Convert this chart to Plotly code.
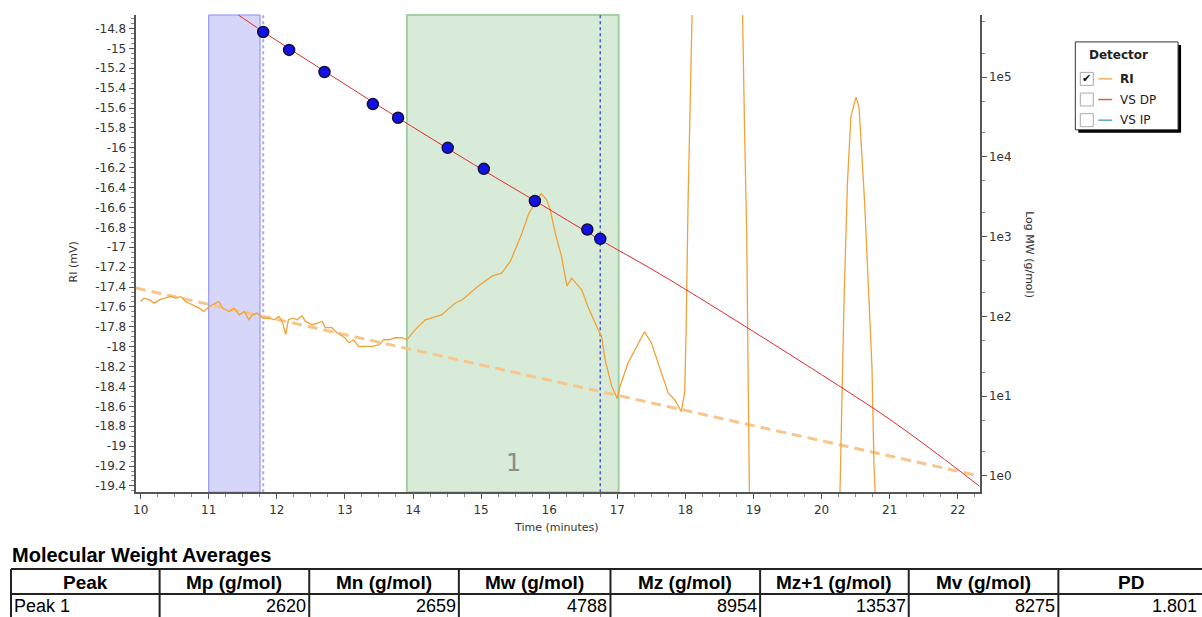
import plotly.graph_objects as go

W, H = 1202, 617

# ---------------- data ----------------
ri_time = [10.00, 10.05, 10.13, 10.20, 10.27, 10.37, 10.44, 10.52, 10.59, 10.66, 10.76, 10.86, 10.93,
           11.01, 11.10, 11.15, 11.20, 11.30, 11.37, 11.45, 11.52, 11.59, 11.64, 11.71, 11.79, 11.89,
           11.96, 12.03, 12.08, 12.13, 12.17, 12.23, 12.30, 12.37, 12.42, 12.52, 12.67, 12.71, 12.81,
           12.86, 12.93, 13.00, 13.06, 13.13, 13.20, 13.30, 13.40, 13.50, 13.57, 13.64, 13.74, 13.84,
           13.91, 14.03, 14.18, 14.42, 14.62, 14.72, 14.96, 15.16, 15.30, 15.43, 15.50, 15.60, 15.70,
           15.79, 15.88, 15.96, 16.01, 16.09, 16.18, 16.26, 16.33, 16.48, 16.57, 16.72, 16.77, 16.82,
           16.92, 17.00, 17.04, 17.16, 17.31, 17.40, 17.50, 17.60, 17.75, 17.84, 17.94, 17.99, 18.01,
           18.04, 18.08, 18.15, 18.40, 18.65, 18.80, 18.84, 18.87, 18.90, 18.92, 18.94, 19.00, 19.50,
           20.00, 20.20, 20.27, 20.30, 20.33, 20.38, 20.43, 20.505, 20.55, 20.63, 20.70, 20.74, 20.77,
           20.78, 20.85, 21.50, 22.32]
ri_mv = [-17.546, -17.512, -17.529, -17.562, -17.529, -17.512, -17.495, -17.512, -17.495, -17.546,
         -17.579, -17.612, -17.646, -17.596, -17.562, -17.546, -17.612, -17.646, -17.612, -17.679,
         -17.646, -17.729, -17.679, -17.662, -17.712, -17.712, -17.729, -17.696, -17.746, -17.879,
         -17.729, -17.712, -17.729, -17.689, -17.746, -17.779, -17.746, -17.808, -17.808, -17.846,
         -17.879, -17.910, -17.960, -17.930, -17.997, -17.997, -17.997, -17.981, -17.930, -17.930,
         -17.910, -17.910, -17.930, -17.83, -17.73, -17.68, -17.56, -17.53, -17.39, -17.29, -17.26,
         -17.14, -17.03, -16.86, -16.66, -16.56, -16.46, -16.52, -16.61, -16.86, -17.09, -17.39,
         -17.31, -17.43, -17.60, -17.83, -17.90, -18.13, -18.40, -18.52, -18.40, -18.16, -17.96,
         -17.85, -17.96, -18.16, -18.47, -18.53, -18.65, -18.46, -17.86, -16.52, -14.68, -13.0,
         -11.5, -12.5, -14.0, -14.66, -15.85, -16.85, -18.20, -19.47, -20.5, -21.5, -21.0, -20.0,
         -19.47, -18.53, -17.53, -16.35, -15.69, -15.49, -15.59, -16.52, -17.53, -18.20, -19.20,
         -19.47, -20.5, -21.5, -21.5]

baseline_time = [9.93, 22.32]
baseline_mv = [-17.41, -19.30]

cal_time = [11.40, 11.80, 12.70, 13.78, 14.51, 15.04, 15.79, 16.75, 17.50, 18.00, 19.00, 20.00,
            21.00, 21.90, 22.32]
cal_mw = [631000, 371500, 118900, 30900, 12740, 6760, 2818, 912, 394, 219, 64.6, 18.6, 5.13, 1.40,
          0.741]

std_time = [11.80, 12.18, 12.70, 13.41, 13.78, 14.51, 15.04, 15.79, 16.56, 16.75]
std_mw = [369000, 220000, 116000, 46000, 31000, 13000, 7100, 2800, 1230, 940]

x_ticks = list(range(10, 23))
y_ticks = [-14.8, -15, -15.2, -15.4, -15.6, -15.8, -16, -16.2, -16.4, -16.6, -16.8, -17, -17.2,
           -17.4, -17.6, -17.8, -18, -18.2, -18.4, -18.6, -18.8, -19, -19.2, -19.4]
y_tick_text = ["-14.8", "-15", "-15.2", "-15.4", "-15.6", "-15.8", "-16", "-16.2", "-16.4", "-16.6",
               "-16.8", "-17", "-17.2", "-17.4", "-17.6", "-17.8", "-18", "-18.2", "-18.4", "-18.6",
               "-18.8", "-19", "-19.2", "-19.4"]
mw_ticks = [1, 10, 100, 1000, 10000, 100000]
mw_tick_text = ["1e0", "1e1", "1e2", "1e3", "1e4", "1e5"]

slice_band = [11.0, 11.754]
peak_band = [13.91, 17.02]
slice_lines = [11.80, 16.75]
peak_label = "1"
peak_label_pos = [15.48, -19.17]

legend_title = "Detector"
legend_names = ["RI", "VS DP", "VS IP"]
legend_colors = ["#F4B060", "#E0603C", "#5AA8C8"]
legend_checked = [True, False, False]

table_title = "Molecular Weight Averages"
table_headers = ["Peak", "Mp (g/mol)", "Mn (g/mol)", "Mw (g/mol)", "Mz (g/mol)", "Mz+1 (g/mol)",
                 "Mv (g/mol)", "PD"]
table_row = ["Peak 1", "2620", "2659", "4788", "8954", "13537", "8275", "1.801"]
col_edges = [8, 157, 307, 457, 609, 759, 908, 1058, 1206]


# ---------------- helpers (pixel -> paper) ----------------
def px(x):
    return x / W


def py(y):
    return 1 - y / H


def note(x, y, text, size, color="#000", family="DejaVu Sans", xa="center", ya="middle",
         angle=0):
    return dict(x=px(x), y=py(y), xref="paper", yref="paper", text=text, showarrow=False,
                xanchor=xa, yanchor=ya, textangle=angle,
                font=dict(family=family, size=size, color=color))


AX = "#555555"
TICKFONT = dict(family="DejaVu Sans", size=12, color="#333333")

fig = go.Figure()

fig.add_trace(go.Scatter(x=baseline_time, y=baseline_mv, mode="lines",
                         line=dict(color="#F6C68C", width=3, dash="10px,6px"),
                         hoverinfo="skip", showlegend=False))
fig.add_trace(go.Scatter(x=ri_time, y=ri_mv, mode="lines",
                         line=dict(color="#F0A238", width=1.3),
                         name="RI", showlegend=False))
fig.add_trace(go.Scatter(x=cal_time, y=cal_mw, mode="lines", yaxis="y2",
                         line=dict(color="#E62828", width=1, shape="spline"),
                         showlegend=False))
fig.add_trace(go.Scatter(x=std_time, y=std_mw, mode="markers", yaxis="y2",
                         marker=dict(size=11, color="#1212E6",
                                     line=dict(color="#10103A", width=1.5)),
                         showlegend=False))

shapes = []
# bands
shapes.append(dict(type="rect", xref="x", yref="y domain", x0=slice_band[0], x1=slice_band[1],
                   y0=0, y1=1, fillcolor="#D6D6FA", line=dict(color="#8A8AEE", width=1),
                   layer="below"))
shapes.append(dict(type="rect", xref="x", yref="y domain", x0=peak_band[0], x1=peak_band[1],
                   y0=0, y1=1, fillcolor="#D8EBD8", line=dict(color="#A4CFA4", width=2),
                   layer="below"))
shapes.append(dict(type="line", xref="x", yref="y domain", x0=slice_lines[0], x1=slice_lines[0],
                   y0=0, y1=1, line=dict(color="#A8A8F0", width=2, dash="dot"), layer="below"))
shapes.append(dict(type="line", xref="x", yref="y domain", x0=slice_lines[1], x1=slice_lines[1],
                   y0=0, y1=1, line=dict(color="#4A5AD6", width=1.5, dash="dot"), layer="below"))

annotations = []
annotations.append(dict(x=peak_label_pos[0], y=peak_label_pos[1], xref="x", yref="y",
                        text=peak_label, showarrow=False, xanchor="center", yanchor="middle",
                        font=dict(family="DejaVu Sans", size=24, color="#8C8C8C")))
# axis titles
annotations.append(note(555, 528, "Time (minutes)", 11, "#333"))
annotations.append(note(71, 262, "RI (mV)", 11, "#333", angle=-90))
annotations.append(note(1029, 255, "Log MW (g/mol)", 11, "#333", angle=90))

# legend box
shapes.append(dict(type="rect", xref="paper", yref="paper", x0=px(1078), x1=px(1181),
                   y0=py(133), y1=py(45), fillcolor="#000000", line=dict(width=0)))
shapes.append(dict(type="rect", xref="paper", yref="paper", x0=px(1075), x1=px(1178),
                   y0=py(130), y1=py(42), fillcolor="#FFFFFF", line=dict(color="#333333", width=1)))
annotations.append(note(1118, 55, "<b>" + legend_title + "</b>", 12, "#222"))
for i, (nm, col, chk) in enumerate(zip(legend_names, legend_colors, legend_checked)):
    yc = 79 + i * 20.7
    shapes.append(dict(type="rect", xref="paper", yref="paper", x0=px(1080), x1=px(1093),
                       y0=py(yc + 6.5), y1=py(yc - 6.5), fillcolor="#FFFFFF",
                       line=dict(color="#AAAAAA", width=1)))
    shapes.append(dict(type="line", xref="paper", yref="paper", x0=px(1098), x1=px(1112),
                       y0=py(yc), y1=py(yc), line=dict(color=col, width=1.5)))
    if chk:
        annotations.append(note(1086.5, yc, "✔", 11, "#111"))
    label = "<b>" + nm + "</b>" if chk else nm
    annotations.append(note(1118, yc, label, 12, "#222", xa="left"))

# table
TF = "Liberation Sans, Arial"
annotations.append(note(7, 556, "<b>" + table_title + "</b>", 20, "#000", family=TF, xa="left"))
for yy in [570, 595, 619]:
    shapes.append(dict(type="line", xref="paper", yref="paper", x0=px(col_edges[0]),
                       x1=px(col_edges[-1]), y0=py(yy), y1=py(yy),
                       line=dict(color="#222222", width=2)))
for xx in col_edges:
    shapes.append(dict(type="line", xref="paper", yref="paper", x0=px(xx), x1=px(xx),
                       y0=py(570), y1=py(619), line=dict(color="#222222", width=2)))
for i, h in enumerate(table_headers):
    xc = (col_edges[i] + col_edges[i + 1]) / 2
    if i == len(table_headers) - 1:
        xc = 1131
    annotations.append(note(xc, 583, "<b>" + h + "</b>", 19, "#000", family=TF))
for i, v in enumerate(table_row):
    if i == 0:
        annotations.append(note(col_edges[0] + 1, 607, v, 18, "#000", family=TF, xa="left"))
    else:
        xr = col_edges[i + 1] - 1 if i < len(table_row) - 1 else 1199
        annotations.append(note(xr, 607, v, 18, "#000", family=TF, xa="right"))

fig.update_layout(
    width=W, height=H,
    margin=dict(l=0, r=0, t=0, b=0),
    paper_bgcolor="white", plot_bgcolor="white",
    showlegend=False,
    xaxis=dict(domain=[px(133), px(979)], range=[9.927, 22.32], tickvals=x_ticks,
               ticks="outside", ticklen=5, tickcolor=AX, showline=True, linecolor=AX, linewidth=2,
               showgrid=False, zeroline=False, tickfont=TICKFONT,
               minor=dict(dtick=0.25, tick0=0, ticks="outside", ticklen=3, tickcolor="#888",
                          showgrid=False)),
    yaxis=dict(domain=[py(493), py(15)], range=[-19.463, -14.664], tickvals=y_ticks,
               ticktext=y_tick_text, ticks="outside", ticklen=5, tickcolor=AX, showline=True,
               linecolor=AX, linewidth=2, showgrid=False, zeroline=False, tickfont=TICKFONT,
               minor=dict(dtick=0.05, tick0=0, ticks="outside", ticklen=3, tickcolor="#888",
                          showgrid=False)),
    yaxis2=dict(overlaying="y", side="right", type="log", range=[-0.204, 5.78],
                tickvals=mw_ticks, ticktext=mw_tick_text, ticks="outside", ticklen=5,
                tickcolor=AX, showline=True, linecolor=AX, linewidth=2, showgrid=False,
                zeroline=False, tickfont=TICKFONT,
                minor=dict(dtick="D2", ticks="outside", ticklen=3, tickcolor="#888",
                           showgrid=False)),
    shapes=shapes,
    annotations=annotations,
)

fig.write_html("out.html", config={"displayModeBar": False},
               post_script="document.body.style.margin='0';")
